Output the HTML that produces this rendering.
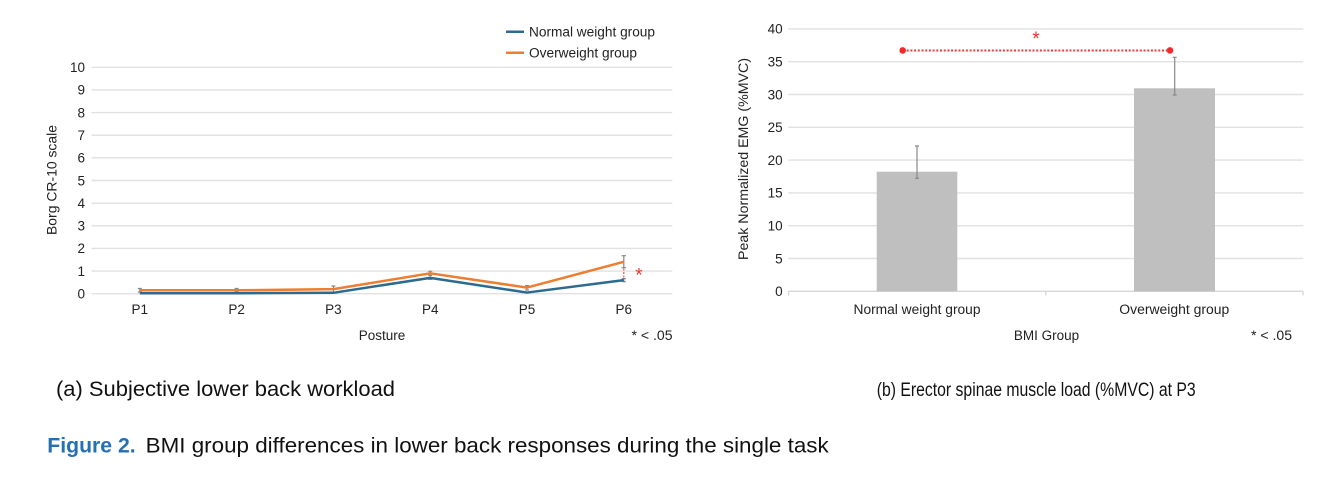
<!DOCTYPE html>
<html>
<head>
<meta charset="utf-8">
<style>
html,body{margin:0;padding:0;background:#fff;}
svg{display:block;}
text{font-family:"Liberation Sans",Arial,sans-serif;}
</style>
</head>
<body>
<svg width="1339" height="484" viewBox="0 0 1339 484" xmlns="http://www.w3.org/2000/svg">
<rect width="1339" height="484" fill="#fff"/>

<!-- ===== LEFT CHART ===== -->
<g stroke="#e1e1e1" stroke-width="1.4">
<line x1="91.5" y1="293.7" x2="672.3" y2="293.7"/>
<line x1="91.5" y1="271.06" x2="672.3" y2="271.06"/>
<line x1="91.5" y1="248.42" x2="672.3" y2="248.42"/>
<line x1="91.5" y1="225.78" x2="672.3" y2="225.78"/>
<line x1="91.5" y1="203.14" x2="672.3" y2="203.14"/>
<line x1="91.5" y1="180.5" x2="672.3" y2="180.5"/>
<line x1="91.5" y1="157.86" x2="672.3" y2="157.86"/>
<line x1="91.5" y1="135.22" x2="672.3" y2="135.22"/>
<line x1="91.5" y1="112.58" x2="672.3" y2="112.58"/>
<line x1="91.5" y1="89.94" x2="672.3" y2="89.94"/>
<line x1="91.5" y1="67.3" x2="672.3" y2="67.3"/>
</g>
<g font-size="13.5" fill="#222" text-anchor="end">
<text x="85" y="298.5">0</text>
<text x="85" y="275.9">1</text>
<text x="85" y="253.2">2</text>
<text x="85" y="230.6">3</text>
<text x="85" y="207.9">4</text>
<text x="85" y="185.3">5</text>
<text x="85" y="162.7">6</text>
<text x="85" y="140">7</text>
<text x="85" y="117.4">8</text>
<text x="85" y="94.7">9</text>
<text x="85" y="72.1">10</text>
</g>
<text transform="translate(56.5,180) rotate(-90)" font-size="13.5" fill="#222" text-anchor="middle" textLength="110" lengthAdjust="spacingAndGlyphs">Borg CR-10 scale</text>

<g font-size="13.5" fill="#222" text-anchor="middle">
<text x="139.8" y="313.8">P1</text>
<text x="236.6" y="313.8">P2</text>
<text x="333.4" y="313.8">P3</text>
<text x="430.2" y="313.8">P4</text>
<text x="527" y="313.8">P5</text>
<text x="623.8" y="313.8">P6</text>
<text x="382" y="339.8">Posture</text>
</g>
<text x="672.5" y="339.8" font-size="13.5" fill="#222" text-anchor="end" textLength="41" lengthAdjust="spacingAndGlyphs">* &lt; .05</text>

<!-- error bars -->
<g stroke="#888" stroke-width="1.2" fill="none">
<path d="M139.8 288.5V292 M137.8 288.5H141.8 M137.8 292H141.8"/>
<path d="M236.6 288.5V292 M234.6 288.5H238.6 M234.6 292H238.6"/>
<path d="M333.4 286V292 M331.4 286H335.4"/>
<path d="M430.2 271.3V275.4 M428.2 271.3H432.2 M428.2 275.4H432.2"/>
<path d="M430.2 276.3V279.4 M428.2 279.4H432.2"/>
<path d="M527 285.6V290 M525 285.6H529 M525 290H529"/>
<path d="M623.8 255.7V267.7 M621.6 255.7H626 M621.6 267.7H626"/>
<path d="M623.8 278.6V281.6 M621.8 278.6H625.8 M621.8 281.6H625.8"/>
</g>
<line x1="623.8" y1="268.5" x2="623.8" y2="279" stroke="#f05050" stroke-width="1.2" stroke-dasharray="2 1.5"/>

<polyline points="139.8,290.3 236.6,290.3 333.4,289.17 430.2,273.32 527,287.59 623.8,261.78" fill="none" stroke="#ed7d31" stroke-width="2.5" stroke-linejoin="round"/>
<polyline points="139.8,293.25 236.6,293.25 333.4,292.8 430.2,277.85 527,292.57 623.8,280.12" fill="none" stroke="#2d6a8e" stroke-width="2.5" stroke-linejoin="round"/>

<text x="639" y="281.5" font-size="19" fill="#ee3333" text-anchor="middle">*</text>

<!-- legend -->
<line x1="506" y1="31.7" x2="524" y2="31.7" stroke="#2d6a8e" stroke-width="2.5"/>
<line x1="506" y1="52.7" x2="524" y2="52.7" stroke="#ed7d31" stroke-width="2.5"/>
<text x="529" y="36.5" font-size="13.5" fill="#222" textLength="126" lengthAdjust="spacingAndGlyphs">Normal weight group</text>
<text x="529" y="57.5" font-size="13.5" fill="#222" textLength="108" lengthAdjust="spacingAndGlyphs">Overweight group</text>

<!-- ===== RIGHT CHART ===== -->
<g stroke="#e1e1e1" stroke-width="1.4">
<line x1="788.3" y1="258.5" x2="1303.3" y2="258.5"/>
<line x1="788.3" y1="225.7" x2="1303.3" y2="225.7"/>
<line x1="788.3" y1="192.9" x2="1303.3" y2="192.9"/>
<line x1="788.3" y1="160.1" x2="1303.3" y2="160.1"/>
<line x1="788.3" y1="127.3" x2="1303.3" y2="127.3"/>
<line x1="788.3" y1="94.5" x2="1303.3" y2="94.5"/>
<line x1="788.3" y1="61.7" x2="1303.3" y2="61.7"/>
<line x1="788.3" y1="28.9" x2="1303.3" y2="28.9"/>
</g>
<g stroke="#d6d6d6" stroke-width="1.3">
<line x1="788.3" y1="291.3" x2="1303.3" y2="291.3"/>
<line x1="788.6" y1="291.3" x2="788.6" y2="295.5"/>
<line x1="1045.8" y1="291.3" x2="1045.8" y2="295.5"/>
<line x1="1303" y1="291.3" x2="1303" y2="295.5"/>
</g>
<g font-size="13.5" fill="#222" text-anchor="end">
<text x="782.7" y="296.1">0</text>
<text x="782.7" y="263.3">5</text>
<text x="782.7" y="230.5">10</text>
<text x="782.7" y="197.7">15</text>
<text x="782.7" y="164.9">20</text>
<text x="782.7" y="132.1">25</text>
<text x="782.7" y="99.3">30</text>
<text x="782.7" y="66.5">35</text>
<text x="782.7" y="33.7">40</text>
</g>
<text transform="translate(748.1,159) rotate(-90)" font-size="13.5" fill="#222" text-anchor="middle" textLength="202" lengthAdjust="spacingAndGlyphs">Peak Normalized EMG (%MVC)</text>

<rect x="876.7" y="171.7" width="80.6" height="119.6" fill="#bfbfbf"/>
<rect x="1134" y="88.3" width="81" height="203" fill="#bfbfbf"/>

<g stroke="#888" stroke-width="1.2" fill="none">
<path d="M917 146V178.3 M915 146H919 M915 178.3H919"/>
<path d="M1174.7 57.3V95 M1172.7 57.3H1176.7 M1172.7 95H1176.7"/>
</g>

<line x1="903" y1="50.5" x2="1170" y2="50.5" stroke="#f03a3a" stroke-width="2" stroke-dasharray="2 1.7"/>
<circle cx="902.7" cy="50.4" r="3.3" fill="#f02a2a"/>
<circle cx="1170" cy="50.4" r="3.3" fill="#f02a2a"/>
<text x="1036" y="44.8" font-size="19" fill="#ee3333" text-anchor="middle">*</text>

<g font-size="13.5" fill="#222" text-anchor="middle">
<text x="917" y="313.8" textLength="127" lengthAdjust="spacingAndGlyphs">Normal weight group</text>
<text x="1174.3" y="313.8" textLength="110" lengthAdjust="spacingAndGlyphs">Overweight group</text>
<text x="1046.5" y="339.8">BMI Group</text>
</g>
<text x="1292" y="339.8" font-size="13.5" fill="#222" text-anchor="end" textLength="41" lengthAdjust="spacingAndGlyphs">* &lt; .05</text>

<!-- ===== CAPTIONS ===== -->
<text x="56" y="396" font-size="21" fill="#111" textLength="339" lengthAdjust="spacingAndGlyphs">(a) Subjective lower back workload</text>
<text x="876.7" y="396" font-size="19.5" fill="#111" textLength="319" lengthAdjust="spacingAndGlyphs">(b) Erector spinae muscle load (%MVC) at P3</text>
<text x="47.3" y="452.3" font-size="21" font-weight="bold" fill="#2470b3" textLength="88.4" lengthAdjust="spacingAndGlyphs">Figure 2.</text>
<text x="145.7" y="452.3" font-size="21" fill="#111" textLength="683" lengthAdjust="spacingAndGlyphs">BMI group differences in lower back responses during the single task</text>
</svg>
</body>
</html>
